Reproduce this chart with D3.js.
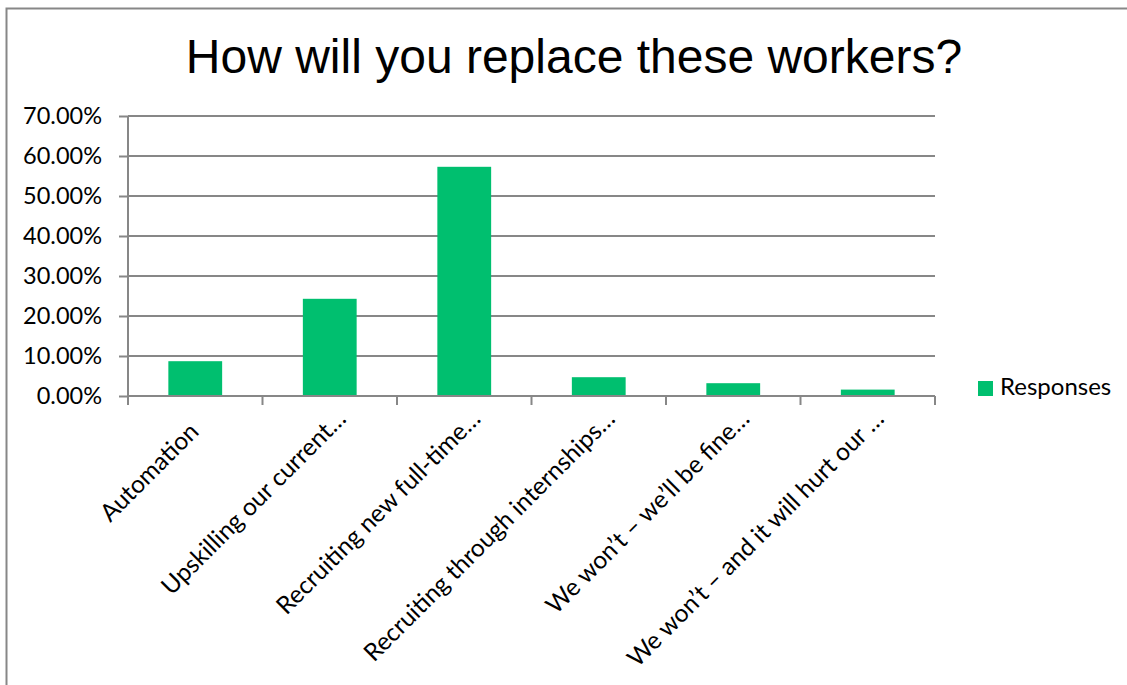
<!DOCTYPE html>
<html>
<head>
<meta charset="utf-8">
<script src="https://cdn.jsdelivr.net/npm/d3@7"></script>
<style>
  html, body { margin: 0; padding: 0; background: #fff; }
  svg { display: block; }
</style>
</head>
<body>
<svg id="chart" width="1127" height="685"></svg>
<script>
// Survey answers and their share of responses
const categories = [
  "Automation",
  "Upskilling our current…",
  "Recruiting new full-time…",
  "Recruiting through internships…",
  "We won’t – we’ll be fine…",
  "We won’t – and it will hurt our …"
];
const responses = [0.087, 0.243, 0.573, 0.047, 0.032, 0.016];
const yTicks = [0, 0.1, 0.2, 0.3, 0.4, 0.5, 0.6, 0.7];
const seriesName = "Responses";
const titleText = "How will you replace these workers?";

const svg = d3.select("#chart");
const W = 1127, H = 685;
const plot = { left: 128, right: 935, top: 116, bottom: 396 };
const green = "#00bf6f";
const gridGray = "#878787";
const labelFont = "Lato, 'Open Sans', sans-serif";

// chart frame
svg.append("rect")
  .attr("x", 6.5).attr("y", 8.5)
  .attr("width", W + 20).attr("height", H + 20)
  .attr("fill", "#fff")
  .attr("stroke", gridGray).attr("stroke-width", 2);

// title
svg.append("text")
  .attr("x", 574).attr("y", 73)
  .attr("text-anchor", "middle")
  .attr("font-family", "'Liberation Sans', Arial, sans-serif")
  .attr("font-size", 48)
  .attr("fill", "#000")
  .text(titleText);

const x = d3.scaleBand()
  .domain(categories)
  .range([plot.left, plot.right])
  .paddingInner(0.6)
  .paddingOuter(0.3);

const y = d3.scaleLinear()
  .domain([0, 0.7])
  .range([plot.bottom, plot.top]);

// horizontal gridlines
svg.append("g")
  .selectAll("line")
  .data(yTicks.filter(t => t > 0))
  .join("line")
  .attr("x1", plot.left).attr("x2", plot.right)
  .attr("y1", d => y(d)).attr("y2", d => y(d))
  .attr("stroke", gridGray).attr("stroke-width", 2);

// value axis
const yAxis = d3.axisLeft(y)
  .tickValues(yTicks)
  .tickSize(9)
  .tickPadding(17)
  .tickFormat(d => (d * 100).toFixed(2) + "%");

const yG = svg.append("g")
  .attr("transform", `translate(${plot.left},0)`)
  .call(yAxis);
yG.select(".domain").attr("stroke", gridGray).attr("stroke-width", 2)
  .attr("d", `M0,${plot.top}V${plot.bottom}`);
yG.selectAll(".tick line").attr("stroke", gridGray).attr("stroke-width", 2);
yG.selectAll(".tick text")
  .attr("font-family", labelFont)
  .attr("font-size", 23.5)
  .attr("fill", "#000")
  .attr("dy", "0.33em");

// bars
svg.append("g")
  .selectAll("rect")
  .data(responses)
  .join("rect")
  .attr("x", (d, i) => x(categories[i]))
  .attr("y", d => y(d))
  .attr("width", x.bandwidth())
  .attr("height", d => y(0) - y(d))
  .attr("fill", green);

// category axis: baseline plus tick marks between categories
const step = x.step();
const boundaries = d3.range(categories.length + 1).map(i => plot.left + i * step);
svg.append("line")
  .attr("x1", plot.left).attr("x2", plot.right)
  .attr("y1", plot.bottom).attr("y2", plot.bottom)
  .attr("stroke", gridGray).attr("stroke-width", 2);
svg.append("g")
  .selectAll("line")
  .data(boundaries)
  .join("line")
  .attr("x1", d => d).attr("x2", d => d)
  .attr("y1", plot.bottom).attr("y2", plot.bottom + 9)
  .attr("stroke", gridGray).attr("stroke-width", 2);

// rotated category labels
svg.append("g")
  .selectAll("text")
  .data(categories)
  .join("text")
  .attr("transform", d => `translate(${x(d) + x.bandwidth() / 2 + 5},${plot.bottom + 37}) rotate(-45)`)
  .attr("dx", d => d.endsWith("…") ? 18 : 0)
  .attr("text-anchor", "end")
  .attr("font-family", labelFont)
  .attr("font-size", 24.5)
  .attr("fill", "#000")
  .text(d => d);

// legend
const legend = svg.append("g").attr("transform", "translate(978,381)");
legend.append("rect")
  .attr("width", 15).attr("height", 15)
  .attr("fill", green);
legend.append("text")
  .attr("x", 22).attr("y", 14)
  .attr("font-family", labelFont)
  .attr("font-size", 24)
  .attr("fill", "#000")
  .text(seriesName);
</script>
</body>
</html>
